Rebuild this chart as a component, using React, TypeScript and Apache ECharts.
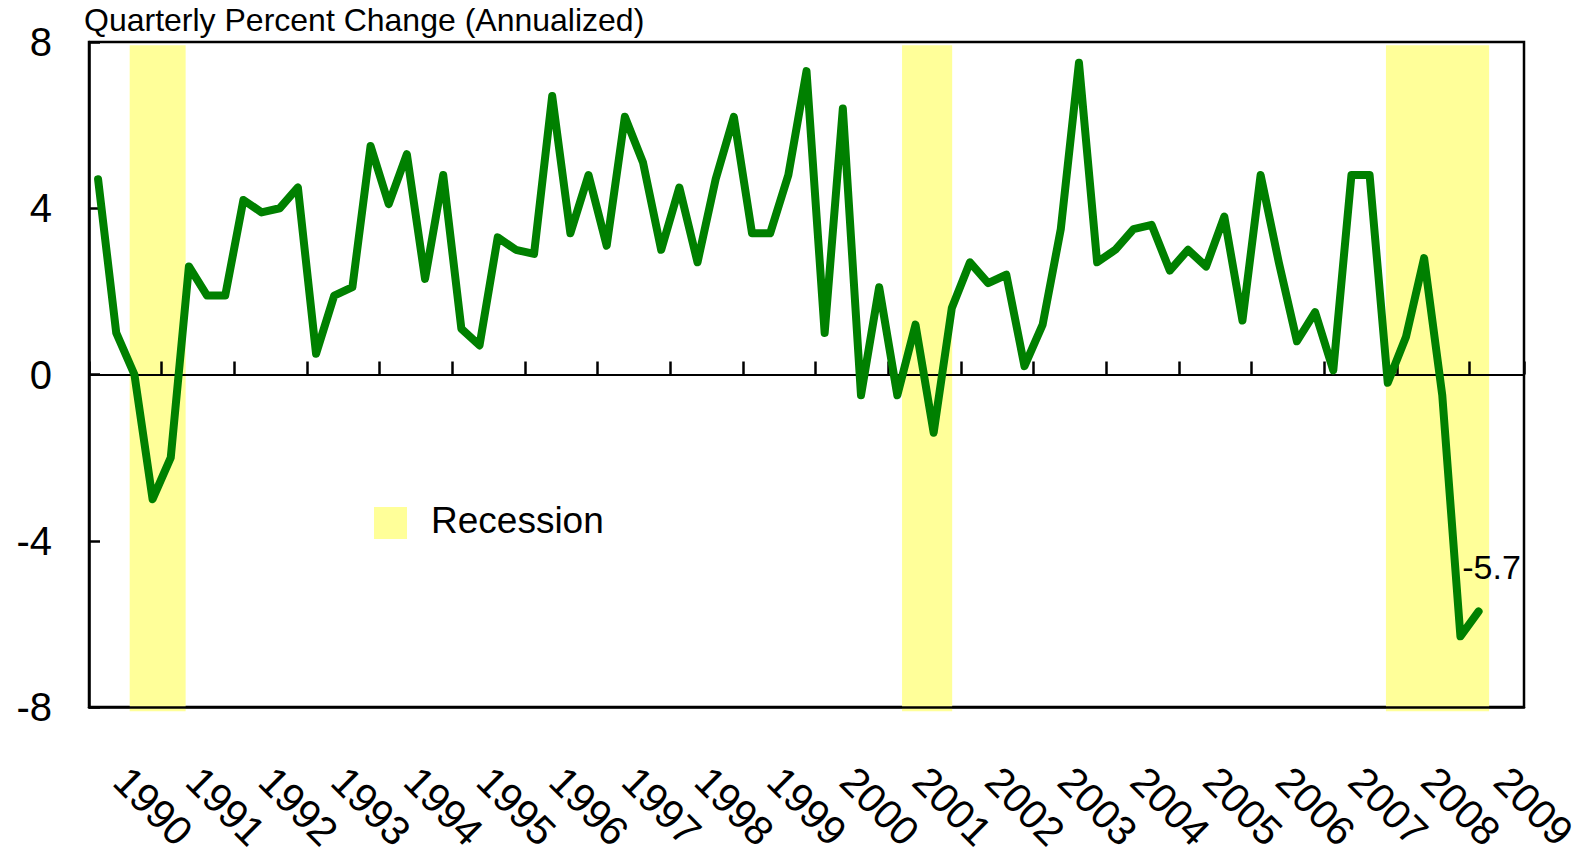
import React, { useEffect, useRef } from "react";
import * as echarts from "echarts";

// ---- data ----
const firstYear = 1990;
const lastAxisYear = 2009.75; // axis runs through 2009Q3
const yearLabels = [
  "1990", "1991", "1992", "1993", "1994", "1995", "1996", "1997", "1998", "1999",
  "2000", "2001", "2002", "2003", "2004", "2005", "2006", "2007", "2008", "2009",
];
// Real GDP, quarterly percent change (annualized), 1990Q1 .. 2009Q1
const gdpGrowth = [
  4.7, 1.0, 0.0, -3.0, // 1990
  -2.0, 2.6, 1.9, 1.9, // 1991
  4.2, 3.9, 4.0, 4.5, // 1992
  0.5, 1.9, 2.1, 5.5, // 1993
  4.1, 5.3, 2.3, 4.8, // 1994
  1.1, 0.7, 3.3, 3.0, // 1995
  2.9, 6.7, 3.4, 4.8, // 1996
  3.1, 6.2, 5.1, 3.0, // 1997
  4.5, 2.7, 4.7, 6.2, // 1998
  3.4, 3.4, 4.8, 7.3, // 1999
  1.0, 6.4, -0.5, 2.1, // 2000
  -0.5, 1.2, -1.4, 1.6, // 2001
  2.7, 2.2, 2.4, 0.2, // 2002
  1.2, 3.5, 7.5, 2.7, // 2003
  3.0, 3.5, 3.6, 2.5, // 2004
  3.0, 2.6, 3.8, 1.3, // 2005
  4.8, 2.7, 0.8, 1.5, // 2006
  0.1, 4.8, 4.8, -0.2, // 2007
  0.9, 2.8, -0.5, -6.3, // 2008
  -5.7, // 2009
];
// Recession shading (fractional years)
const recessionStarts = [1990.56, 2001.19, 2007.85];
const recessionEnds = [1991.33, 2001.88, 2009.27];
const yTicks = { min: -8, max: 8, interval: 4 };

const FONT = "'Liberation Sans', Arial, Helvetica, sans-serif";

export default function App() {
  const ref = useRef<HTMLDivElement>(null);

  useEffect(() => {
    if (!ref.current) return;
    const chart = echarts.init(ref.current, null, { renderer: "svg" });

    // half-quarter slots used to place the year labels
    const slotCount = Math.round((lastAxisYear - firstYear) * 8);
    const slots: string[] = [];
    for (let i = 0; i < slotCount; i++) {
      const y = yearLabels[Math.floor(i / 8)] ?? String(firstYear + Math.floor(i / 8));
      slots.push(y + "-" + (i % 8));
    }

    const lastIdx = gdpGrowth.length - 1;
    const lineData = gdpGrowth.map((v, i) => {
      const x = firstYear + (i + 0.5) / 4;
      if (i === lastIdx) {
        return {
          value: [x, v],
          label: {
            show: true,
            position: "top",
            distance: 27,
            offset: [13, 0],
            formatter: () => v.toFixed(1),
            fontSize: 34,
            color: "#000",
            fontFamily: FONT,
          },
        };
      }
      return { value: [x, v] };
    });

    chart.setOption({
      animation: false,
      title: {
        text: "Quarterly Percent Change (Annualized)",
        left: 84,
        top: 4,
        padding: 0,
        textStyle: { fontSize: 32, fontWeight: "normal", color: "#000", fontFamily: FONT },
      },
      grid: {
        left: 89,
        right: 72,
        top: 42,
        bottom: 152,
        show: true,
        borderColor: "#000",
        borderWidth: 2.5,
        backgroundColor: "transparent",
      },
      xAxis: [
        {
          type: "category",
          position: "bottom",
          data: slots,
          boundaryGap: true,
          axisLine: { show: true, onZero: false, lineStyle: { color: "#000", width: 2.5 } },
          axisTick: { show: false },
          axisLabel: {
            interval: (i: number) => i % 8 === 3,
            rotate: -45,
            margin: 67,
            fontSize: 41,
            color: "#000",
            fontFamily: FONT,
            formatter: (v: string) => v.slice(0, 4),
          },
          splitLine: { show: false },
          z: 5,
        },
        {
          type: "value",
          position: "top",
          min: firstYear,
          max: lastAxisYear,
          interval: 1,
          axisLine: { show: true, onZero: true, onZeroAxisIndex: 0, lineStyle: { color: "#000", width: 2 } },
          axisTick: { show: true, inside: false, length: 13, lineStyle: { color: "#000", width: 2.5 } },
          axisLabel: { show: false },
          splitLine: { show: false },
          z: 5,
        },
      ],
      yAxis: [
        {
          type: "value",
          min: yTicks.min,
          max: yTicks.max,
          interval: yTicks.interval,
          axisLine: { show: true, lineStyle: { color: "#000", width: 2.5 } },
          axisTick: { show: true, inside: true, length: 11, lineStyle: { color: "#000", width: 2.5 } },
          axisLabel: { fontSize: 40, margin: 37, color: "#000", fontFamily: FONT },
          splitLine: { show: false },
          z: 5,
        },
      ],
      graphic: [
        { type: "rect", shape: { x: 374, y: 507, width: 33, height: 32 }, style: { fill: "#FFFF99" }, z: 10 },
        {
          type: "text",
          x: 431,
          y: 520,
          style: { text: "Recession", font: `37px ${FONT}`, fill: "#000", verticalAlign: "middle" },
          z: 10,
        },
      ],
      series: [
        {
          name: "Recession",
          type: "custom",
          xAxisIndex: 1,
          yAxisIndex: 0,
          data: recessionStarts.map((s, i) => [s, recessionEnds[i], 0]),
          encode: { x: [0, 1], y: 2 },
          clip: false,
          silent: true,
          z: 2,
          renderItem: (_params: any, api: any) => {
            const p0 = api.coord([api.value(0), 7.92]);
            const p1 = api.coord([api.value(1), -8.1]);
            return {
              type: "rect",
              shape: { x: p0[0], y: p0[1], width: p1[0] - p0[0], height: p1[1] - p0[1] },
              style: { fill: "#FFFF99" },
            };
          },
        },
        {
          name: "Real GDP",
          type: "line",
          xAxisIndex: 1,
          yAxisIndex: 0,
          data: lineData,
          symbol: "circle",
          symbolSize: 1,
          showSymbol: true,
          itemStyle: { color: "#008000" },
          lineStyle: { color: "#008000", width: 8, join: "round", cap: "round" },
          z: 6,
          clip: false,
          silent: true,
        },
      ],
    });

    return () => chart.dispose();
  }, []);

  return (
    <div
      ref={ref}
      style={{ position: "fixed", left: 0, top: 0, width: 1596, height: 859, background: "#fff" }}
    />
  );
}
